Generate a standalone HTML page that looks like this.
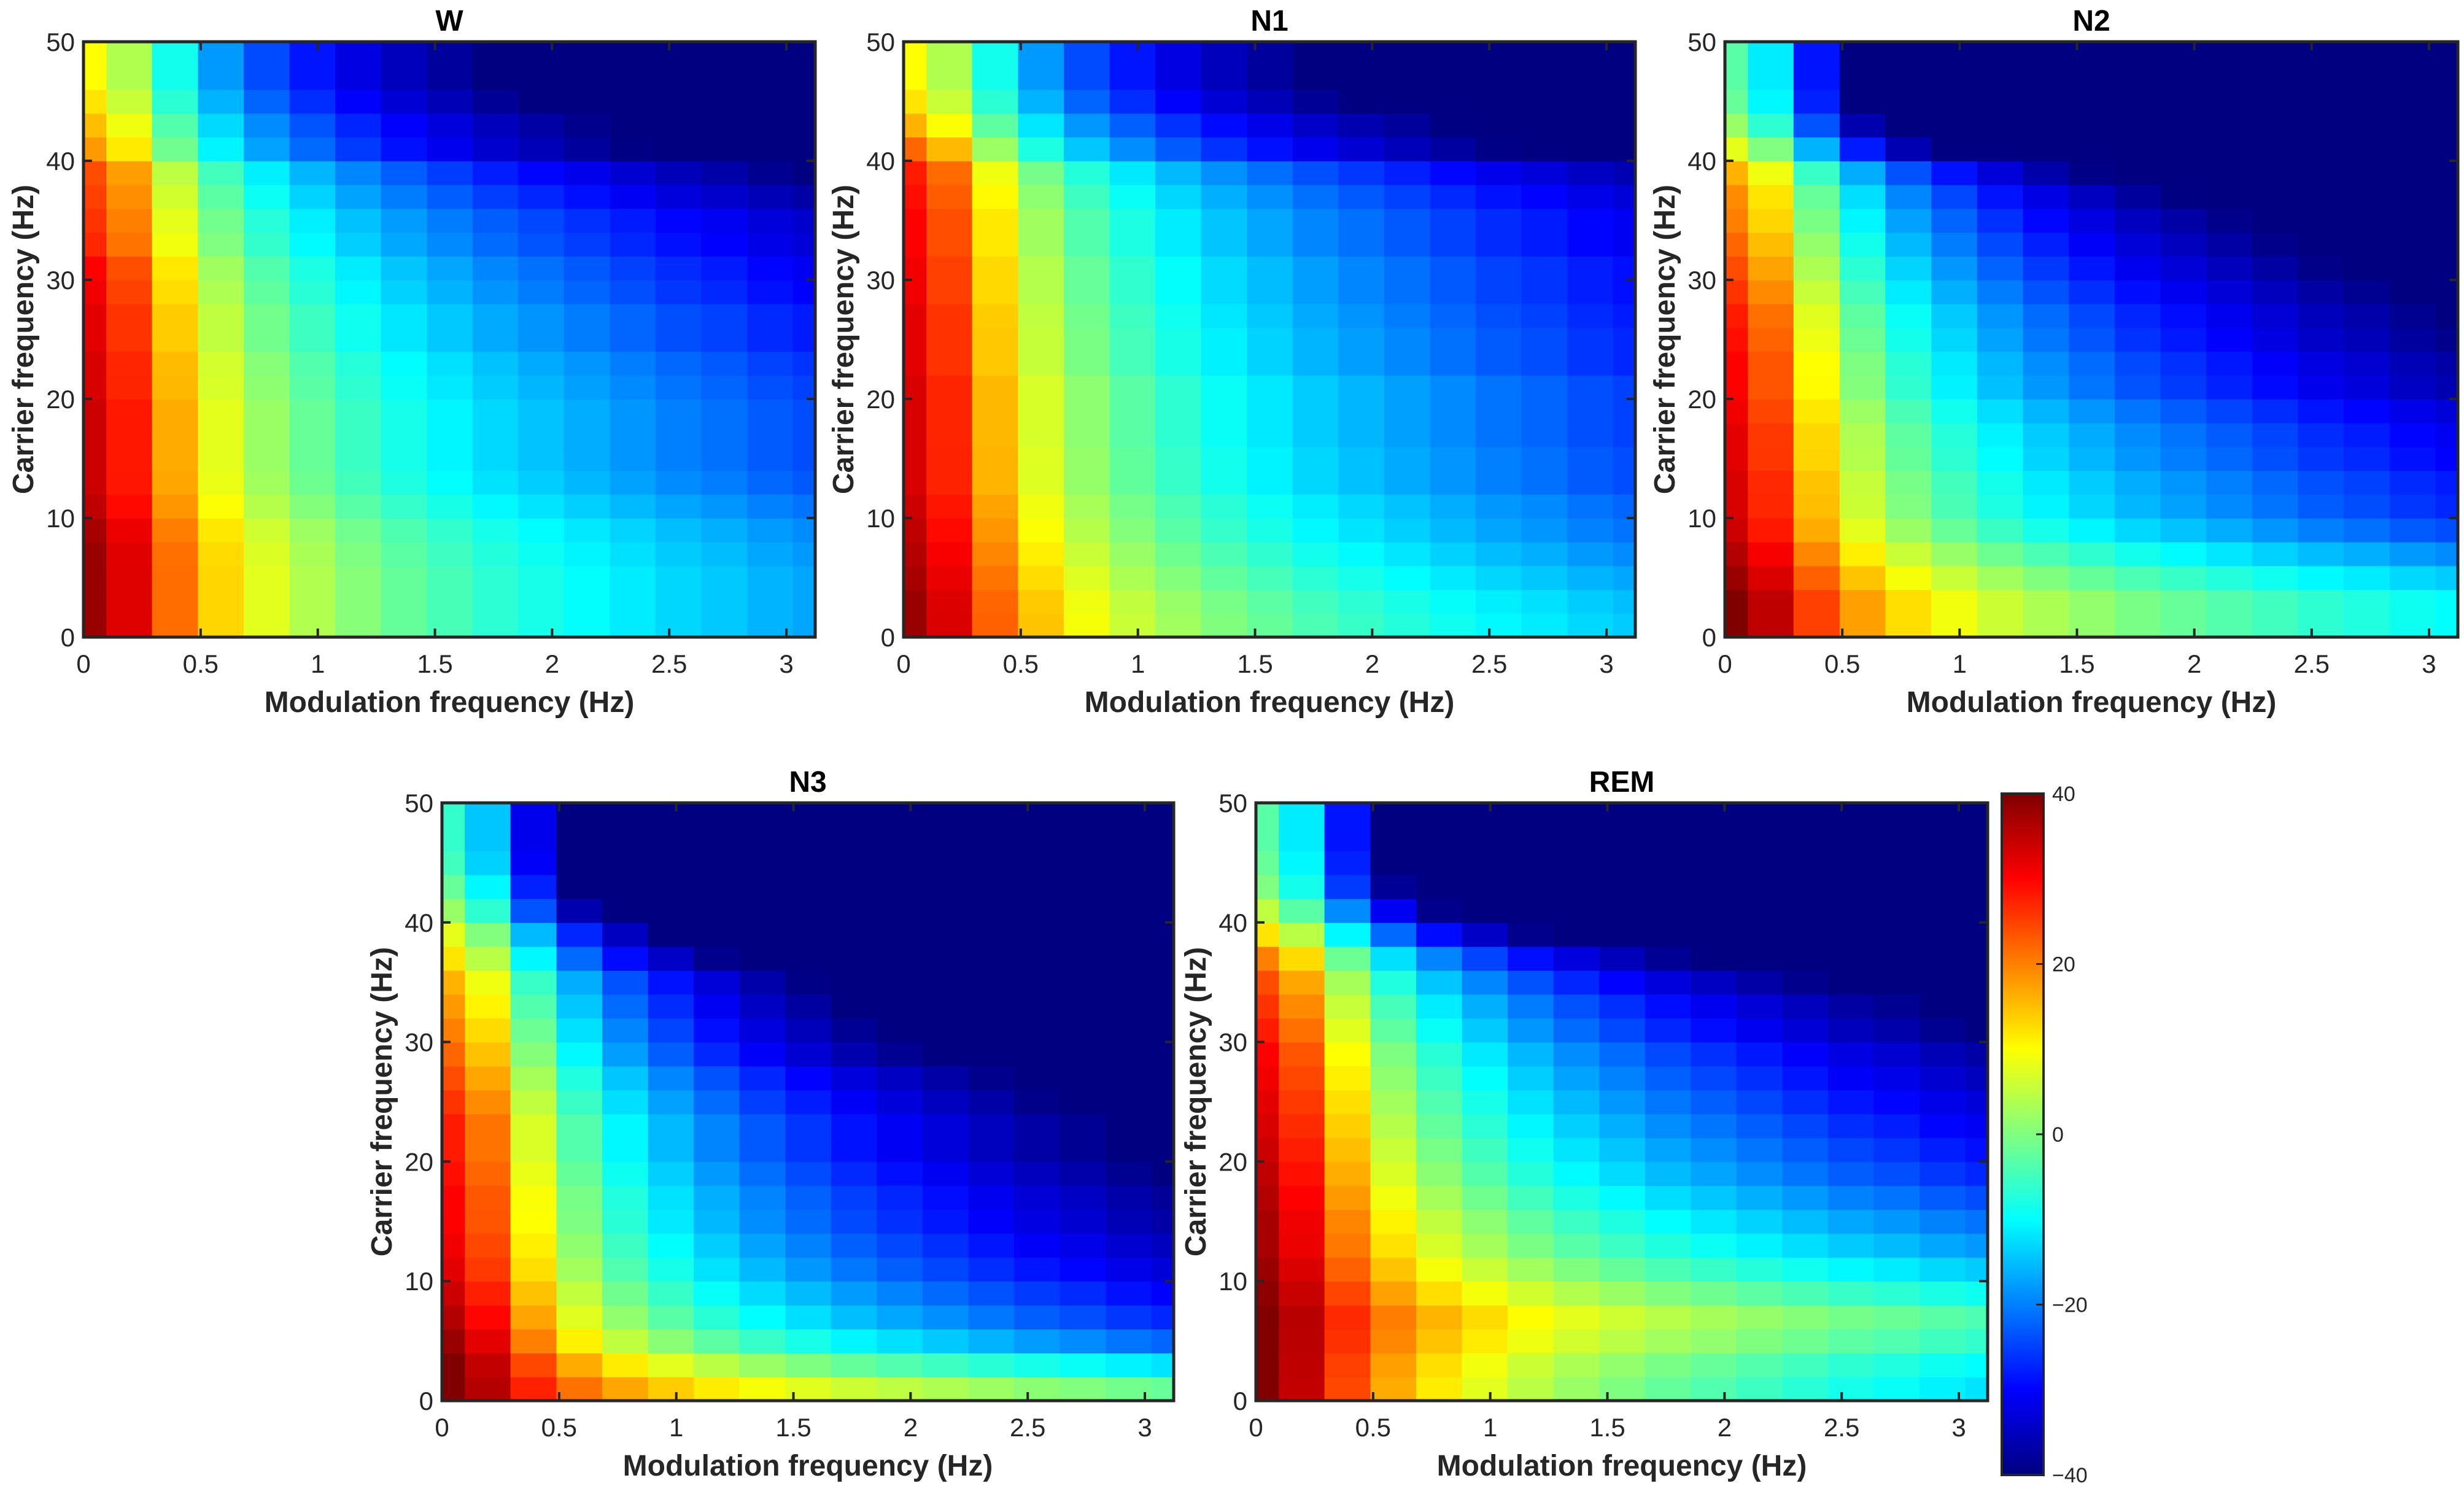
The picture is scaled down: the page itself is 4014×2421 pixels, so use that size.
<!DOCTYPE html>
<html><head><meta charset="utf-8"><style>
html,body{margin:0;padding:0;background:#fff;}
svg{display:block;font-family:"Liberation Sans",Arial,sans-serif;}
</style></head><body>
<svg id="fig" width="4014" height="2421" viewBox="0 0 4014 2421" xmlns="http://www.w3.org/2000/svg"></svg>
<script>
// Shared modulation-frequency bin centers (Hz) and column decay shape
const modFreqs = [0,0.195,0.39,0.586,0.781,0.977,1.172,1.367,1.563,1.758,1.953,2.148,2.344,2.539,2.734,2.93,3.125];
const colShape = [0,0.1,0.3,0.45,0.55,0.62,0.68,0.73,0.77,0.81,0.84,0.87,0.9,0.93,0.95,0.98,1.0];
// Carrier frequency bands (2 Hz each, bottom to top)
const carrierBands = [0,2,4,6,8,10,12,14,16,18,20,22,24,26,28,30,32,34,36,38,40,42,44,46,48];
// Per-panel level at lowest modulation frequency (dB) and decay across modulation frequency
const levelW   = [38,38,38,38,37,35,34,34,34,34,33,33,32,32,31,30,27,26,25,24,18,15,12,10,10];
const decayW   = [55,55,55,56,56,56,57,58,58,58,58,59,60,60,61,61,60,60,62,64,64,62,62,62,62];
const levelN1  = [38,38,37,36,35,34,33,33,33,33,33,32,32,32,31,31,30,30,29,28,22,16,12,10,10];
const decayN1  = [52,53,54,55,56,56,57,57,58,58,58,59,59,60,60,60,61,61,62,64,66,62,62,62,62];
const levelN2  = [40,40,38,36,34,33,33,32,32,31,30,30,29,28,26,24,22,20,19,16,8,2,-2,-3,-3];
const decayN2  = [50,50,52,55,58,60,61,62,63,64,66,67,68,68,68,68,68,68,70,72,80,85,85,85,85];
const levelN3  = [40,40,38,36,34,32,31,30,30,29,28,28,26,24,22,20,18,16,12,8,2,-2,-5,-6,-6];
const decayN3  = [42,52,60,63,64,65,66,67,68,69,70,70,70,70,72,72,72,72,75,78,85,85,85,85,85];
const levelREM = [40,40,40,40,39,38,37,37,36,35,34,33,32,31,30,28,26,24,20,12,5,0,-2,-3,-3];
const decayREM = [52,50,46,44,48,52,55,58,60,62,63,64,65,66,67,68,68,70,72,75,80,85,85,85,85];
const xTicks = [0,0.5,1,1.5,2,2.5,3];
const xTickLabels = ["0","0.5","1","1.5","2","2.5","3"];
const yTicks = [0,10,20,30,40,50];
const cbTicks = [-40,-20,0,20,40];
const cbTickLabels = ["\u221240","\u221220","0","20","40"];

const NS="http://www.w3.org/2000/svg";
const svg=document.getElementById('fig');
function mk(tag,attrs,parent){const e=document.createElementNS(NS,tag);for(const k in attrs)e.setAttribute(k,attrs[k]);(parent||svg).appendChild(e);return e;}
function clamp(v){return Math.max(0,Math.min(1,v));}
function jet(v){const t=clamp((v+40)/80);
  const r=clamp(1.5-Math.abs(4*t-3)),g=clamp(1.5-Math.abs(4*t-2)),b=clamp(1.5-Math.abs(4*t-1));
  return `rgb(${Math.round(r*255)},${Math.round(g*255)},${Math.round(b*255)})`;}

const XMAX=3.123, YMAX=50, BIN=0.195, BAND=2;
const panels=[
 {name:'W',x:136,y:68,w:1192,h:970,L:levelW,D:decayW},
 {name:'N1',x:1472,y:68,w:1192,h:970,L:levelN1,D:decayN1},
 {name:'N2',x:2810,y:68,w:1194,h:970,L:levelN2,D:decayN2},
 {name:'N3',x:720,y:1308,w:1192,h:974,L:levelN3,D:decayN3},
 {name:'REM',x:2046,y:1308,w:1192,h:974,L:levelREM,D:decayREM}
];
panels.forEach((p,pi)=>{
  const g=mk('g',{});
  
  
  const sx=f=>p.x+f/XMAX*p.w, sy=c=>p.y+p.h-c/YMAX*p.h;
  const cp=mk('clipPath',{id:'clip'+pi},g);
  mk('rect',{x:p.x,y:p.y,width:p.w,height:p.h},cp);
  const hm=mk('g',{'clip-path':`url(#clip${pi})`},g);
  
  
  modFreqs.forEach((f,c)=>{
    carrierBands.forEach((cb,r)=>{
      const v=p.L[r]-p.D[r]*colShape[c];
      const x0=sx(f-BIN/2),x1=sx(f+BIN/2),y0=sy(cb+BAND),y1=sy(cb);
      const cell=mk('rect',{x:x0.toFixed(1),y:y0.toFixed(1),width:(x1-x0+0.8).toFixed(1),height:(y1-y0+0.8).toFixed(1),fill:jet(v)},hm);
      
      
    });
  });
  const fr=mk('rect',{x:p.x,y:p.y,width:p.w,height:p.h,fill:'none',stroke:'#262626',"stroke-width":5},g);
  
  
  xTicks.forEach((t,i)=>{
    const X=sx(t);
    mk('line',{x1:X,y1:p.y+p.h,x2:X,y2:p.y+p.h-14,stroke:'#262626','stroke-width':4},g);
    mk('line',{x1:X,y1:p.y,x2:X,y2:p.y+14,stroke:'#262626','stroke-width':4},g);
    const tx=mk('text',{x:X,y:p.y+p.h+58,'font-size':42,'text-anchor':'middle',fill:'#262626'},g);
    tx.textContent=xTickLabels[i];
    
    
  });
  yTicks.forEach(t=>{
    const Y=sy(t);
    mk('line',{x1:p.x,y1:Y,x2:p.x+14,y2:Y,stroke:'#262626','stroke-width':4},g);
    mk('line',{x1:p.x+p.w,y1:Y,x2:p.x+p.w-14,y2:Y,stroke:'#262626','stroke-width':4},g);
    const ty=mk('text',{x:p.x-14,y:Y+15,'font-size':42,'text-anchor':'end',fill:'#262626'},g);
    ty.textContent=String(t);
    
    
  });
  const xl=mk('text',{x:p.x+p.w/2,y:p.y+p.h+122,'font-size':48,'font-weight':'bold','text-anchor':'middle',fill:'#262626'},g);
  xl.textContent='Modulation frequency (Hz)';
  
  
  const yx=p.x-82, yy=p.y+p.h/2;
  const yl=mk('text',{x:yx,y:yy,'font-size':48,'font-weight':'bold','text-anchor':'middle',fill:'#262626',transform:`rotate(-90 ${yx} ${yy})`},g);
  yl.textContent='Carrier frequency (Hz)';
  
  
  const ti=mk('text',{x:p.x+p.w/2,y:p.y-18,'font-size':48,'font-weight':'bold','text-anchor':'middle',fill:'#000'},g);
  ti.textContent=p.name;
  
  
});
// Colorbar
const cb={x:3261,y:1293,w:68,h:1110};
const cg=mk('g',{});


const grad=mk('linearGradient',{id:'jetgrad',x1:0,y1:1,x2:0,y2:0},cg);
for(let i=0;i<=16;i++){const v=-40+80*i/16;mk('stop',{offset:(i/16),'stop-color':jet(v)},grad);}
mk('rect',{x:cb.x,y:cb.y,width:cb.w,height:cb.h,fill:'url(#jetgrad)',stroke:'#262626','stroke-width':4},cg);
cbTicks.forEach((t,i)=>{
  const Y=cb.y+cb.h-(t+40)/80*cb.h;
  mk('line',{x1:cb.x+cb.w-12,y1:Y,x2:cb.x+cb.w,y2:Y,stroke:'#262626','stroke-width':3},cg);
  const tl=mk('text',{x:cb.x+cb.w+14,y:Y+12,'font-size':34,fill:'#262626'},cg);
  tl.textContent=cbTickLabels[i];
  
  
});
</script>
</body></html>
